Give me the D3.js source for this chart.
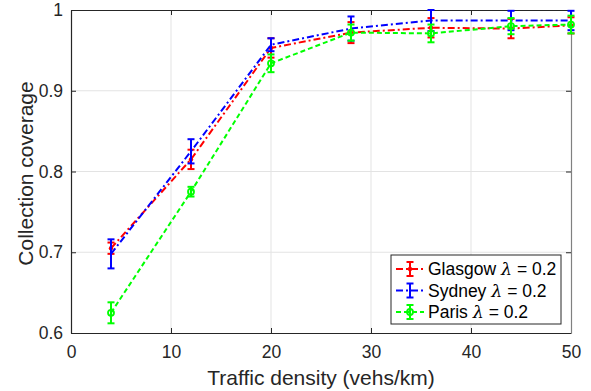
<!DOCTYPE html>
<html>
<head>
<meta charset="utf-8">
<script src="https://cdn.jsdelivr.net/npm/d3@7"></script>
<style>
  body { margin: 0; background: #fff; }
  svg { font-family: "Liberation Sans", Arial, sans-serif; }
</style>
</head>
<body>
<svg id="chart" width="591" height="391"></svg>
<script>
const WIDTH = 591;
const HEIGHT = 391;

// traffic density (vehs/km)
const density = [4, 12, 20, 28, 36, 44, 50];

const glasgow = [0.705, 0.815, 0.953, 0.972, 0.978, 0.977, 0.981];
const glasgowErr = [0.007, 0.012, 0.012, 0.013, 0.012, 0.012, 0.010];

const sydney = [0.698, 0.825, 0.957, 0.977, 0.987, 0.987, 0.987];
const sydneyErr = [0.018, 0.015, 0.008, 0.015, 0.013, 0.012, 0.012];

const paris = [0.625, 0.775, 0.934, 0.972, 0.971, 0.980, 0.982];
const parisErr = [0.013, 0.006, 0.011, 0.010, 0.011, 0.010, 0.011];

const xTicks = [0, 10, 20, 30, 40, 50];
const yTicks = [0.6, 0.7, 0.8, 0.9, 1];

const series = [
  { name: 'Glasgow', values: glasgow, errors: glasgowErr, color: '#ff0000', dash: '7,3,2,3', marker: 'dot' },
  { name: 'Sydney', values: sydney, errors: sydneyErr, color: '#0000ff', dash: '7,3,2,3', marker: 'none' },
  { name: 'Paris', values: paris, errors: parisErr, color: '#00ff00', dash: '5,3', marker: 'circle' },
];

const margin = { top: 10, right: 20, bottom: 58, left: 71 };
const innerW = WIDTH - margin.left - margin.right;
const innerH = HEIGHT - margin.top - margin.bottom;

const svg = d3.select('#chart');
const g = svg.append('g').attr('transform', `translate(${margin.left},${margin.top})`);

const x = d3.scaleLinear().domain([0, 50]).range([0, innerW]);
const y = d3.scaleLinear().domain([0.6, 1]).range([innerH, 0]);

// grid
g.append('g').selectAll('line').data(xTicks.slice(1, -1)).enter().append('line')
  .attr('x1', (d) => x(d)).attr('x2', (d) => x(d))
  .attr('y1', 0).attr('y2', innerH)
  .style('stroke', '#e3e3e3').style('stroke-width', 1);
g.append('g').selectAll('line').data(yTicks.slice(1, -1)).enter().append('line')
  .attr('x1', 0).attr('x2', innerW)
  .attr('y1', (d) => y(d)).attr('y2', (d) => y(d))
  .style('stroke', '#e3e3e3').style('stroke-width', 1);

// axes with inward ticks
const fmtY = (d) => (d === 1 ? '1' : d3.format('.1f')(d));
const xAxis = g.append('g').attr('transform', `translate(0,${innerH})`)
  .call(d3.axisBottom(x).tickValues(xTicks).tickSizeInner(-5).tickSizeOuter(0).tickPadding(13));
const yAxis = g.append('g')
  .call(d3.axisLeft(y).tickValues(yTicks).tickFormat(fmtY).tickSizeInner(-5).tickSizeOuter(0).tickPadding(8));
const xTop = g.append('g')
  .call(d3.axisTop(x).tickValues(xTicks).tickSizeInner(-5).tickSizeOuter(0).tickFormat(''));
const yRight = g.append('g').attr('transform', `translate(${innerW},0)`)
  .call(d3.axisRight(y).tickValues(yTicks).tickSizeInner(-5).tickSizeOuter(0).tickFormat(''));

[xAxis, yAxis, xTop].forEach((a) => {
  a.select('.domain').style('stroke', '#262626').style('stroke-width', 1.2);
  a.selectAll('.tick line').style('stroke', '#262626');
  a.selectAll('text').style('font-size', '17.5px').style('fill', '#262626')
    .style('font-family', '"Liberation Sans", Arial, sans-serif');
});
yRight.select('.domain').style('stroke', '#808080').style('stroke-width', 1.2);
yRight.selectAll('.tick line').style('stroke', '#262626');

// axis labels
svg.append('text')
  .attr('x', margin.left + innerW / 2).attr('y', 385)
  .attr('text-anchor', 'middle')
  .style('font-size', '21px').style('fill', '#262626')
  .text('Traffic density (vehs/km)');
svg.append('text')
  .attr('transform', `translate(33,${margin.top + innerH / 2 + 2}) rotate(-90)`)
  .attr('text-anchor', 'middle')
  .style('font-size', '21px').style('fill', '#262626')
  .text('Collection coverage');

const CAP = 3.5;

function drawErrorBar(sel, cx, yTop, yBot, color) {
  sel.append('line').attr('x1', cx).attr('x2', cx).attr('y1', yTop).attr('y2', yBot)
    .style('stroke', color).style('stroke-width', 2);
  [yTop, yBot].forEach((yy) => {
    sel.append('line').attr('x1', cx - CAP).attr('x2', cx + CAP).attr('y1', yy).attr('y2', yy)
      .style('stroke', color).style('stroke-width', 2);
  });
}

function drawMarker(sel, cx, cy, s) {
  if (s.marker === 'dot') {
    sel.append('circle').attr('cx', cx).attr('cy', cy).attr('r', 2.2).style('fill', s.color);
  } else if (s.marker === 'circle') {
    sel.append('circle').attr('cx', cx).attr('cy', cy).attr('r', 3)
      .style('fill', 'none').style('stroke', s.color).style('stroke-width', 1.8);
  }
}

const line = d3.line().x((d, i) => x(density[i])).y((d) => y(d));

series.forEach((s) => {
  const sg = g.append('g');
  sg.append('path').datum(s.values)
    .attr('d', line)
    .style('fill', 'none')
    .style('stroke', s.color)
    .style('stroke-width', 2)
    .style('stroke-dasharray', s.dash);
  s.values.forEach((v, i) => {
    drawErrorBar(sg, x(density[i]), y(v + s.errors[i]), y(v - s.errors[i]), s.color);
    drawMarker(sg, x(density[i]), y(v), s);
  });
});

// legend
const lg = svg.append('g').attr('transform', 'translate(391,255)');
lg.append('rect').attr('width', 170).attr('height', 69)
  .style('fill', '#fff').style('stroke', '#262626').style('stroke-width', 1);
series.forEach((s, i) => {
  const cy = 14 + i * 21.5;
  const row = lg.append('g');
  row.append('line').attr('x1', 5).attr('x2', 33).attr('y1', cy).attr('y2', cy)
    .style('stroke', s.color).style('stroke-width', 2).style('stroke-dasharray', s.dash);
  drawErrorBar(row, 19, cy - 7, cy + 7, s.color);
  drawMarker(row, 19, cy, s);
  const t = row.append('text').attr('x', 37).attr('y', cy + 6)
    .style('font-size', '17.5px').style('fill', '#000');
  t.append('tspan').text(`${s.name} `);
  t.append('tspan').style('font-style', 'italic').style('font-family', '"DejaVu Serif", serif').text('λ');
  t.append('tspan').text(' = 0.2');
});
</script>
</body>
</html>
